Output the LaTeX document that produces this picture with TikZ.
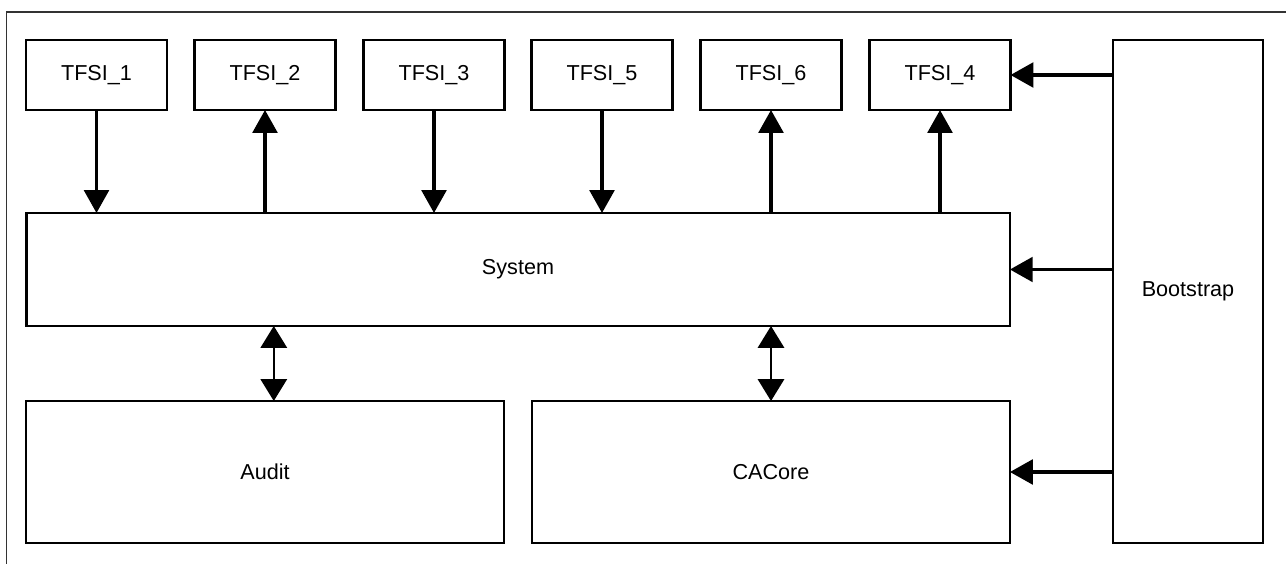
\documentclass[tikz,border=0pt]{standalone}
\usepackage{fontspec}
\setmainfont{Liberation Sans}
\usetikzlibrary{arrows.meta}

\begin{document}
\begin{tikzpicture}[
    x=0.02cm, y=-0.02cm,
    tfsibox/.style={
        rectangle,
        draw=black,
        line width=1.6pt,
        inner sep=0pt,
        outer sep=0pt,
        minimum width=2.82cm,
        minimum height=1.4cm,
        font=\fontsize{12.3}{14}\selectfont,
        align=center
    },
    bigbox/.style={
        rectangle,
        draw=black,
        line width=1.6pt,
        inner sep=0pt,
        outer sep=0pt,
        font=\fontsize{12.3}{14}\selectfont,
        align=center
    },
    arrow/.style={-{Triangle[length=13pt,width=14pt]}, line width=2pt},
    dblarrow/.style={{Triangle[length=12.5pt,width=15pt]}-{Triangle[length=12.5pt,width=15pt]}, line width=1.3pt},
]

\useasboundingbox (0,0) rectangle (1286,564);

% Frame
\draw[line width=0.6pt, draw=black!80] (6.5,12) rectangle (1290,600);

% Top row
\node[tfsibox] (t1) at (96.5,75) {TFSI\_1};
\node[tfsibox] (t2) at (265,75) {TFSI\_2};
\node[tfsibox] (t3) at (434,75) {TFSI\_3};
\node[tfsibox] (t5) at (602,75) {TFSI\_5};
\node[tfsibox] (t6) at (771,75) {TFSI\_6};
\node[tfsibox] (t4) at (940,75) {TFSI\_4};

% Main blocks
\node[bigbox, minimum width=19.68cm, minimum height=2.26cm] (sys) at (518,269.5) {System};
\node[bigbox, minimum width=9.56cm, minimum height=2.84cm] (audit) at (265,472) {Audit};
\node[bigbox, minimum width=9.56cm, minimum height=2.84cm] (cacore) at (771,472) {CACore};
\node[bigbox, minimum width=3cm, minimum height=10.06cm] (boot) at (1188,291.5) {Bootstrap};

% Arrows
\draw[arrow] (t1.south) -- (t1.south |- sys.north);
\draw[arrow] (t2.south |- sys.north) -- (t2.south);
\draw[arrow] (t3.south) -- (t3.south |- sys.north);
\draw[arrow] (t5.south) -- (t5.south |- sys.north);
\draw[arrow] (t6.south |- sys.north) -- (t6.south);
\draw[arrow] (t4.south |- sys.north) -- (t4.south);

\draw[arrow] (boot.west |- t4) -- (t4.east);
\draw[arrow] (boot.west |- sys) -- (sys.east);
\draw[arrow] (boot.west |- cacore) -- (cacore.east);

\draw[dblarrow] ([xshift=5]sys.south -| audit) -- ([xshift=5]audit.north);
\draw[dblarrow] (sys.south -| cacore) -- (cacore.north);

\end{tikzpicture}
\end{document}
